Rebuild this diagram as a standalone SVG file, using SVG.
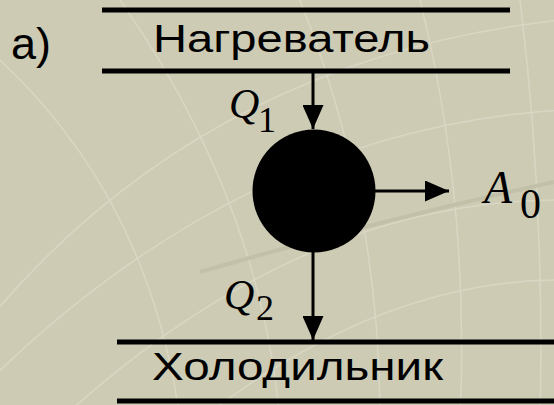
<svg xmlns="http://www.w3.org/2000/svg" width="554" height="405" viewBox="0 0 554 405">
<style>
.bar{stroke:#000;stroke-width:5;fill:none}
.ln{stroke:#000;stroke-width:3;fill:none}
.lbl{font-family:"Liberation Sans",Arial,sans-serif;font-size:38px;fill:#000}
.math{font-family:"Liberation Serif","Times New Roman",serif;fill:#000}
.bg{fill:none;stroke:#d9d7c4;stroke-width:1.5}
</style>
<defs>
<marker id="ah" markerWidth="8" markerHeight="7" refX="8" refY="3.5" orient="auto" markerUnits="strokeWidth">
<path d="M0,0 L8,3.5 L0,7 Z" fill="#000"/>
</marker>
</defs>
<rect width="554" height="405" fill="#cdcbb4"/>
<g id="background">
<path class="bg" d="M-20,330 Q200,60 560,20"/>
<path class="bg" d="M-20,390 Q240,130 560,110"/>
<path class="bg" d="M60,420 Q300,200 560,200"/>
<path class="bg" d="M200,420 Q380,280 560,280"/>
<path class="bg" d="M0,60 Q150,200 180,420"/>
<path class="bg" d="M120,0 Q260,200 280,420"/>
<path class="bg" d="M300,0 Q380,200 380,420"/>
<path class="bg" d="M420,0 Q470,200 460,420"/>
<path class="bg" d="M520,0 Q545,200 540,420"/>
<path d="M200,272 Q380,220 554,182" fill="none" stroke="#c2c0a8" stroke-width="4"/>
</g>
<g id="label-a"><text class="lbl" x="11" y="59" style="font-size:45px">а)</text></g>
<g id="heater">
<line class="bar" x1="102" y1="10" x2="510" y2="10"/>
<line class="bar" x1="102" y1="71" x2="510" y2="71"/>
<text class="lbl" x="153" y="52" textLength="277" lengthAdjust="spacingAndGlyphs">Нагреватель</text>
</g>
<g id="body"><circle cx="314" cy="191" r="61.5" fill="#000"/></g>
<g id="cooler">
<line class="bar" x1="117" y1="342" x2="554" y2="342"/>
<line class="bar" x1="117" y1="401" x2="554" y2="401"/>
<text class="lbl" x="152" y="380" textLength="291" lengthAdjust="spacingAndGlyphs">Холодильник</text>
</g>
<g id="connectors">
<line class="ln" x1="313" y1="73" x2="313" y2="129" marker-end="url(#ah)"/>
<line class="ln" x1="375" y1="191" x2="449" y2="191" marker-end="url(#ah)"/>
<line class="ln" x1="313" y1="252" x2="313" y2="340" marker-end="url(#ah)"/>
</g>
<g id="labels">
<text class="math" x="229" y="118" font-size="42" font-style="italic">Q</text>
<text class="math" x="258" y="132" font-size="36">1</text>
<text class="math" x="224" y="309" font-size="42" font-style="italic">Q</text>
<text class="math" x="256" y="320" font-size="36">2</text>
<text class="math" x="484" y="203" font-size="46" font-style="italic">A</text>
<text class="math" x="520" y="218" font-size="42">0</text>
</g>
</svg>
